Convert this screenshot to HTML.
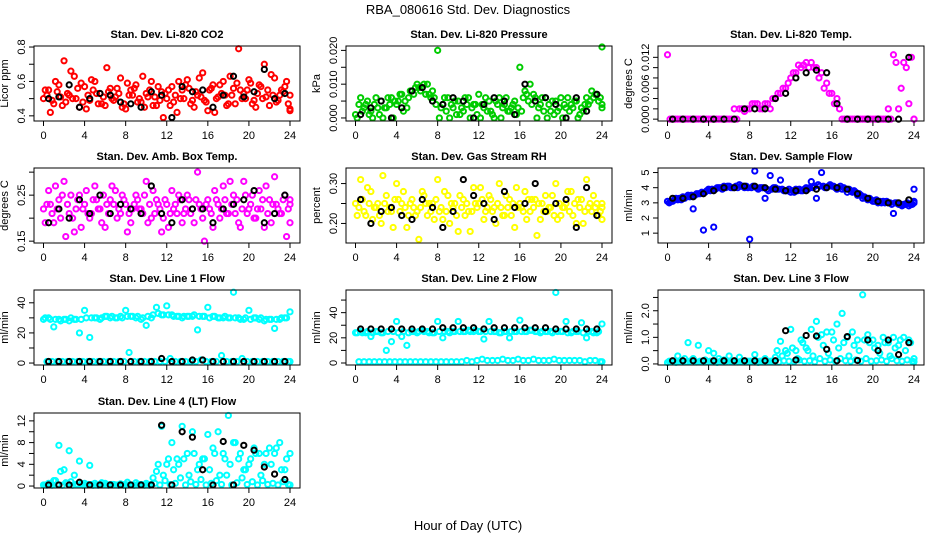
<!DOCTYPE html>
<html><head><meta charset="utf-8"><style>
body{margin:0;background:#fff}
svg text{font-family:"Liberation Sans",Arial,sans-serif;fill:#000}
</style></head><body>
<svg id="c" width="936" height="540" viewBox="0 0 936 540">
<text x="468" y="14" text-anchor="middle" font-size="13">RBA_080616  Std. Dev. Diagnostics</text>
<text x="468" y="530" text-anchor="middle" font-size="13">Hour of Day (UTC)</text>
</svg>
<script>
const co2A=[0.50,0.55,0.47,0.58,0.72,0.52,0.63,0.45,0.57,0.49,0.60,0.53,0.46,0.56,0.51,0.62,0.44,0.55,0.58,0.48,0.53,0.60,0.46,0.54,0.50,0.57,0.42,0.55,0.61,0.49,0.52,0.65,0.43,0.58,0.51,0.60,0.47,0.56,0.79,0.53,0.61,0.49,0.58,0.70,0.46,0.62,0.52,0.57,0.44];
const co2B=[0.55,0.42,0.60,0.51,0.48,0.66,0.50,0.59,0.44,0.61,0.53,0.47,0.68,0.50,0.56,0.45,0.59,0.52,0.48,0.63,0.51,0.46,0.57,0.39,0.55,0.48,0.60,0.50,0.56,0.45,0.62,0.49,0.55,0.42,0.58,0.52,0.63,0.47,0.55,0.50,0.59,0.45,0.57,0.51,0.64,0.48,0.55,0.60,0.43];
const co2C=[0.52,0.49,0.54,0.46,0.53,0.50,0.56,0.48,0.52,0.55,0.47,0.51,0.54,0.49,0.53,0.47,0.52,0.56,0.50,0.45,0.55,0.51,0.49,0.53,0.46,0.52,0.50,0.58,0.47,0.54,0.51,0.48,0.56,0.50,0.53,0.46,0.52,0.59,0.50,0.55,0.47,0.53,0.50,0.55,0.52,0.49,0.54,0.47,0.52];
const co2K=[0.50,0.51,0.58,0.45,0.50,0.53,0.52,0.48,0.47,0.45,0.54,0.52,0.39,0.57,0.54,0.55,0.45,0.52,0.63,0.51,0.54,0.67,0.50,0.53];
const presA=[0.001,0.006,0.004,0.002,0.006,0.005,0.003,0.006,0.004,0.007,0.003,0.008,0.010,0.009,0.010,0.008,0.020,0.004,0.006,0.003,0.005,0.002,0.006,0.004,0.007,0.003,0.005,0.000,0.006,0.004,0.002,0.005,0.015,0.008,0.010,0.006,0.004,0.006,0.002,0.005,0.006,0.003,0.004,0.005,0.003,0.006,0.008,0.007,0.021];
const presB=[0.000,0.002,0.005,0.000,0.003,0.000,0.006,0.000,0.005,0.002,0.006,0.007,0.009,0.010,0.007,0.006,0.000,0.006,0.000,0.005,0.001,0.006,0.000,0.004,0.000,0.006,0.002,0.005,0.000,0.006,0.003,0.001,0.002,0.007,0.004,0.000,0.006,0.000,0.005,0.002,0.000,0.006,0.003,0.000,0.002,0.004,0.006,0.005,0.003];
const presC=[0.004,0.003,0.001,0.004,0.001,0.003,0.004,0.005,0.007,0.005,0.008,0.009,0.008,0.007,0.006,0.004,0.003,0.002,0.004,0.001,0.003,0.004,0.003,0.001,0.004,0.002,0.001,0.004,0.003,0.002,0.004,0.003,0.006,0.005,0.007,0.003,0.002,0.004,0.001,0.003,0.004,0.002,0.005,0.001,0.004,0.005,0.007,0.006,0.004];
const presK=[0.001,0.003,0.005,0.000,0.003,0.008,0.009,0.005,0.004,0.006,0.005,0.000,0.004,0.006,0.005,0.001,0.010,0.005,0.006,0.004,0.000,0.006,0.002,0.007];
const tempA=[0.0125,0,0,0,0,0,0,0,0,0,0,0,0,0.002,0.002,0.0015,0.002,0.003,0.002,0.003,0.002,0.004,0.005,0.006,0.008,0.009,0.010,0.011,0.011,0.010,0.009,0.007,0.005,0.004,0,0,0,0,0,0,0,0,0,0.002,0.0125,0.002,0.011,0.003,0];
const tempB=[0,0,0,0,0,0,0,0,0,0,0,0,0,0,0.002,0.002,0.003,0.003,0.002,0.003,0.004,0.005,0.006,0.007,0.009,0.0105,0.0105,0.010,0.010,0.008,0.006,0.005,0.003,0.002,0,0,0,0,0,0,0,0,0,0,0.011,0.006,0.010,0.012,0];
const tempK=[0,0,0,0,0,0,0,0.002,0.002,0.002,0.004,0.005,0.008,0.009,0.0095,0.009,0.003,0,0,0,0,0,0,0.012];
const ambA=[0.22,0.26,0.19,0.24,0.28,0.21,0.17,0.25,0.23,0.20,0.27,0.22,0.18,0.24,0.26,0.21,0.23,0.19,0.25,0.22,0.28,0.20,0.24,0.17,0.23,0.26,0.21,0.19,0.25,0.22,0.30,0.20,0.24,0.18,0.23,0.27,0.21,0.25,0.19,0.28,0.22,0.20,0.26,0.18,0.24,0.29,0.21,0.25,0.19];
const ambB=[0.19,0.23,0.27,0.20,0.16,0.25,0.22,0.18,0.26,0.21,0.24,0.19,0.23,0.27,0.20,0.25,0.17,0.22,0.24,0.21,0.19,0.26,0.23,0.20,0.18,0.22,0.25,0.21,0.24,0.19,0.23,0.15,0.22,0.26,0.20,0.24,0.28,0.21,0.18,0.25,0.23,0.20,0.22,0.27,0.19,0.23,0.21,0.16,0.24];
const ambC=[0.23,0.21,0.22,0.25,0.23,0.20,0.24,0.22,0.21,0.24,0.22,0.25,0.21,0.23,0.22,0.24,0.21,0.23,0.22,0.25,0.23,0.21,0.22,0.24,0.21,0.23,0.24,0.22,0.21,0.24,0.22,0.23,0.21,0.24,0.22,0.21,0.23,0.24,0.22,0.21,0.25,0.22,0.24,0.21,0.23,0.22,0.24,0.22,0.23];
const ambK=[0.19,0.22,0.20,0.24,0.21,0.25,0.21,0.23,0.22,0.21,0.27,0.21,0.19,0.24,0.22,0.22,0.19,0.22,0.23,0.24,0.26,0.19,0.21,0.25];
const rhA=[0.25,0.31,0.22,0.28,0.24,0.20,0.27,0.23,0.30,0.25,0.19,0.26,0.23,0.28,0.22,0.25,0.31,0.21,0.27,0.24,0.18,0.26,0.23,0.29,0.25,0.21,0.27,0.24,0.30,0.22,0.26,0.19,0.25,0.28,0.23,0.26,0.21,0.27,0.24,0.30,0.22,0.25,0.28,0.20,0.26,0.31,0.23,0.25,0.21];
const rhB=[0.22,0.26,0.29,0.21,0.25,0.32,0.23,0.19,0.26,0.28,0.22,0.24,0.16,0.27,0.25,0.21,0.23,0.28,0.20,0.25,0.27,0.22,0.18,0.25,0.29,0.23,0.26,0.20,0.24,0.27,0.22,0.29,0.24,0.21,0.26,0.17,0.25,0.23,0.27,0.21,0.24,0.28,0.22,0.26,0.20,0.24,0.27,0.22,0.24];
const rhC=[0.24,0.23,0.25,0.24,0.22,0.25,0.24,0.26,0.23,0.24,0.25,0.22,0.24,0.25,0.23,0.26,0.24,0.23,0.25,0.22,0.24,0.25,0.23,0.24,0.26,0.24,0.23,0.25,0.22,0.24,0.25,0.24,0.23,0.26,0.24,0.25,0.23,0.24,0.22,0.25,0.24,0.23,0.25,0.24,0.23,0.25,0.24,0.23,0.25];
const rhK=[0.26,0.20,0.23,0.24,0.22,0.21,0.26,0.24,0.19,0.23,0.31,0.27,0.25,0.21,0.28,0.24,0.25,0.30,0.23,0.25,0.26,0.19,0.29,0.22];
const flowA=[3.0,3.2,3.3,3.3,3.4,3.5,3.6,3.7,3.8,3.9,4.0,4.0,4.0,4.1,4.1,4.1,4.0,4.0,4.0,3.9,3.9,3.9,3.9,3.8,3.8,3.8,3.8,3.9,4.0,4.2,4.1,4.1,4.1,4.0,4.0,3.9,3.8,3.6,3.4,3.3,3.1,3.1,3.0,3.0,3.0,2.9,2.9,2.9,3.1];
const flowB=[3.1,3.1,3.2,3.4,3.5,2.6,3.6,1.2,3.9,1.4,4.0,4.1,4.1,4.0,4.2,4.0,0.6,5.1,4.0,3.3,4.8,4.0,4.5,3.8,3.7,3.9,3.8,4.0,4.4,3.3,5.0,4.0,4.1,3.9,3.9,3.7,3.7,3.5,3.3,3.2,3.1,3.0,3.1,3.0,2.3,2.9,2.9,2.8,3.9];
const flowC=[3.1,3.3,3.2,3.4,3.5,3.6,3.7,3.8,3.9,4.0,3.9,4.1,4.0,4.0,4.1,4.0,4.1,3.9,4.0,3.8,4.0,3.9,3.8,3.9,3.7,3.9,3.9,4.0,4.1,4.1,4.0,4.2,4.0,4.1,3.9,3.8,3.7,3.5,3.3,3.2,3.2,3.0,3.1,2.9,3.0,2.8,3.0,2.9,3.0];
const flowK=[3.3,3.3,3.4,3.6,3.8,4.0,4.0,4.1,4.1,4.0,3.9,3.8,3.8,3.8,3.9,4.0,4.0,3.9,3.6,3.3,3.1,3.0,3.0,3.2];
const l1A=[29,30,24,29,29,28,29,20,35,17,30,29,31,30,30,31,35,31,30,29,25,30,37,32,38,32,31,30,31,31,22,31,37,31,30,30,30,47,30,29,35,30,29,28,29,23,29,30,34];
const l1B=[30,29,29,28,29,30,29,29,30,30,30,30,31,31,30,30,31,31,31,30,31,32,33,32,32,31,31,31,31,32,31,31,30,31,30,31,30,30,29,30,29,30,30,29,29,29,30,30];
const l1C=[1,1,1,1,1,1,1,1,1,1,1,1,1,1,1,1,7,1,1,1,1,1,1,1,3,1,1,1,1,1,2,1,1,1,5,1,1,1,3,1,1,1,1,1,1,1,1,1,1];
const l1K=[1,1,1,1,1,1,1,1,1,1,1,3,1,1,2,2,1,1,1,1,1,1,1,1];
const l2A=[24,25,24,21,25,24,10,17,33,21,14,25,24,26,25,24,33,20,25,25,33,25,26,25,25,19,33,25,24,25,20,25,34,25,26,25,24,25,25,56,25,33,24,25,32,20,25,24,31];
const l2B=[24,24,25,24,25,24,25,25,24,25,24,25,25,25,24,24,25,25,24,25,25,25,25,26,25,25,25,25,24,25,25,25,25,25,26,25,25,25,24,25,25,24,25,25,24,25,24,25];
const l2C=[1,1,1,1,1,1,1,1,1,1,1,1,1,1,1,1,1,1,1,1,1,2,1,2,3,2,2,2,3,2,2,3,2,2,3,2,2,2,3,2,2,2,2,2,1,2,2,1,1];
const l2K=[27,27,27,27,27,27,27,27,28,28,28,28,27,28,28,28,28,28,28,27,27,27,27,27];
const l3A=[0.05,0.1,0.3,0.1,0.8,0.2,0.7,0.1,0.5,0.4,0.2,0.15,0.3,0.1,0.25,0.1,0.1,0.35,0.1,0.2,0.1,0.25,0.85,0.5,1.3,0.5,0.9,0.6,1.3,1.6,1.1,1.2,1.2,1.5,1.9,1.0,1.2,0.9,2.6,1.1,0.9,0.7,1.0,0.8,1.0,0.7,1.0,0.9,0.2];
const l3B=[0.1,0.1,0.1,0.2,0.1,0.1,0.1,0.15,0.1,0.1,0.1,0.1,0.1,0.1,0.1,0.1,0.1,0.1,0.1,0.1,0.1,0.5,0.3,0.4,0.6,0.2,0.8,0.5,0.3,1.0,0.7,0.4,0.9,0.6,0.8,0.3,0.7,0.5,0.9,0.8,0.6,0.4,0.8,0.3,0.6,0.9,0.5,0.8];
const l3C=[0.08,0.06,0.1,0.08,0.12,0.07,0.09,0.08,0.1,0.06,0.08,0.11,0.08,0.07,0.09,0.1,0.08,0.06,0.09,0.08,0.1,0.07,0.12,0.1,0.09,0.15,0.1,0.12,0.08,0.2,0.1,0.15,0.1,0.2,0.12,0.1,0.15,0.1,0.2,0.1,0.12,0.15,0.1,0.2,0.12,0.1,0.15,0.1,0.08];
const l3K=[0.12,0.12,0.12,0.12,0.12,0.12,0.12,0.12,0.12,0.12,0.12,1.25,0.15,1.07,1.05,0.55,0.12,1.03,0.13,0.9,0.5,0.9,0.35,0.8];
const l4A=[0.2,0.5,1,7.5,3,6.5,2,4.6,0.5,3.8,0.5,0.3,0.5,0.3,0.2,0.4,0.3,0.2,0.6,0.3,0.5,0.3,2.7,11,4,8,5,11,6,10,3,5,9.5,7,10,6,13,8,5,3,4,7,6,4,7,6,8,3,6];
const l4B=[0.2,0.3,1,2.7,0.6,0.8,0.3,0.4,0.2,0.3,0.2,0.6,0.2,0.3,0.2,0.3,0.7,0.2,0.3,0.2,0.3,1.5,4,2,5,3,4,5,2,6,4,5,3,6,2,5,4,8,6,3,5,6,2,6,4,7,3,5];
const l4C=[0.15,0.15,0.3,0.15,0.5,0.15,0.2,0.15,0.3,0.15,0.15,0.2,0.15,0.3,0.15,0.15,0.2,0.15,0.3,0.15,0.15,0.5,0.2,1,0.3,0.5,1.5,0.2,0.8,0.3,1.2,0.2,0.5,1,0.3,2,0.2,0.6,1.5,0.3,0.8,0.2,1,0.3,0.5,0.2,0.8,0.3,0.2];
const l4K=[0.2,0.2,0.2,0.7,0.2,0.2,0.2,0.2,0.2,0.2,0.2,11.2,0.2,10,9,3,0.2,8.2,0.2,7.5,6.6,3.5,2.2,1.2];
const xTicks=[0,4,8,12,16,20,24];

const panels=[
 {name:'co2',title:'Stan. Dev. Li-820 CO2',ylab:'Licor ppm',col:0,row:0,ylim:[0.37,0.806],ticks:[0.4,0.5,0.6,0.7,0.8],labels:['0.4','','0.6','','0.8'],color:'#ff0000',series:[co2A,co2B,co2C],black:co2K},
 {name:'pressure',title:'Stan. Dev. Li-820 Pressure',ylab:'kPa',col:1,row:0,ylim:[-0.0009,0.0213],ticks:[0,0.005,0.01,0.015,0.02],labels:['0.000','','0.010','','0.020'],color:'#00cc00',series:[presA,presB,presC],black:presK},
 {name:'temp',title:'Stan. Dev. Li-820 Temp.',ylab:'degrees C',col:2,row:0,ylim:[-0.00036,0.0142],ticks:[0,0.002,0.004,0.006,0.008,0.01,0.012],labels:['0.000','','','0.006','','','0.012'],color:'#ff00ff',series:[tempA,tempB],black:tempK},
 {name:'amb-temp',title:'Stan. Dev. Amb. Box Temp.',ylab:'degrees C',col:0,row:1,ylim:[0.146,0.309],ticks:[0.15,0.2,0.25,0.3],labels:['0.15','','0.25',''],color:'#ff00ff',series:[ambA,ambB,ambC],black:ambK},
 {name:'rh',title:'Stan. Dev. Gas Stream RH',ylab:'percent',col:1,row:1,ylim:[0.151,0.339],ticks:[0.2,0.25,0.3],labels:['0.20','','0.30'],color:'#ffff00',series:[rhA,rhB,rhC],black:rhK},
 {name:'sample-flow',title:'Stan. Dev. Sample Flow',ylab:'ml/min',col:2,row:1,ylim:[0.35,5.3],ticks:[1,2,3,4,5],labels:['1','2','3','4','5'],color:'#0000ff',series:[flowB,flowA,flowC],black:flowK},
 {name:'line1',title:'Stan. Dev. Line 1 Flow',ylab:'ml/min',col:0,row:2,ylim:[-1.3,48.5],ticks:[0,10,20,30,40],labels:['0','','20','','40'],color:'#00ffff',series:[l1A,l1B,l1C],black:l1K},
 {name:'line2',title:'Stan. Dev. Line 2 Flow',ylab:'ml/min',col:1,row:2,ylim:[-1.6,58],ticks:[0,10,20,30,40,50],labels:['0','','20','','40',''],color:'#00ffff',series:[l2A,l2B,l2C],black:l2K},
 {name:'line3',title:'Stan. Dev. Line 3 Flow',ylab:'ml/min',col:2,row:2,ylim:[-0.04,2.78],ticks:[0,0.5,1,1.5,2,2.5],labels:['0.0','','1.0','','2.0',''],color:'#00ffff',series:[l3A,l3B,l3C],black:l3K},
 {name:'line4',title:'Stan. Dev. Line 4 (LT) Flow',ylab:'ml/min',col:0,row:3,ylim:[-0.36,13.45],ticks:[0,2,4,6,8,10,12],labels:['0','','4','','8','','12'],color:'#00ffff',series:[l4A,l4B,l4C],black:l4K}
];
const NS='http://www.w3.org/2000/svg';
const svg=document.getElementById('c');
const colL=[34,346,658], rowT=[46,168,290,413], W=266, H=75;
function mk(tag,at,parent){const e=document.createElementNS(NS,tag);for(const k in at)e.setAttribute(k,at[k]);parent.appendChild(e);return e;}
panels.forEach(p=>{
  const L=colL[p.col],T=rowT[p.row];
  const g=mk('g',{},svg);
  
  
  const xs=h=>L+9.5+h*(246.5/24);
  const ys=v=>T+H-(v-p.ylim[0])/(p.ylim[1]-p.ylim[0])*H;
  const t=mk('text',{x:L+W/2,y:T-8,'text-anchor':'middle','font-size':'11','font-weight':'bold'},g);
  t.textContent=p.title;
  
  
  const yl=mk('text',{transform:`translate(${L-26},${T+H/2}) rotate(-90)`,'text-anchor':'middle','font-size':'11'},g);
  yl.textContent=p.ylab;
  
  
  const pts=mk('g',{fill:'none','stroke-width':'2'},g);
  
  
  const n=p.series.length;
  p.series.forEach((arr,si)=>{
    const off=si*(0.5/n);
    arr.forEach((v,i)=>{
      const c=mk('circle',{cx:xs(Math.min(24,off+i*0.5)),cy:ys(v),r:2.6,stroke:p.color},pts);
      
      
    });
  });
  p.black.forEach((v,i)=>{
    const c=mk('circle',{cx:xs(0.5+i),cy:ys(v),r:2.6,stroke:'#000'},pts);
    
    
  });
  mk('rect',{x:L,y:T,width:W,height:H,fill:'none',stroke:'#000','stroke-width':'1'},g);
  const xa=mk('g',{},g);
  
  
  xTicks.forEach(h=>{
    mk('line',{x1:xs(h),x2:xs(h),y1:T+H,y2:T+H+5,stroke:'#000'},xa);
    const tx=mk('text',{x:xs(h),y:T+H+18,'text-anchor':'middle','font-size':'11'},xa);
    tx.textContent=h;
  });
  const ya=mk('g',{},g);
  
  
  p.ticks.forEach((v,i)=>{
    mk('line',{x1:L-5,x2:L,y1:ys(v),y2:ys(v),stroke:'#000'},ya);
    if(p.labels[i]){
      const ty=mk('text',{transform:`translate(${L-9},${ys(v)}) rotate(-90)`,'text-anchor':'middle','font-size':'11'},ya);
      ty.textContent=p.labels[i];
    }
  });
});
</script>
</body></html>
